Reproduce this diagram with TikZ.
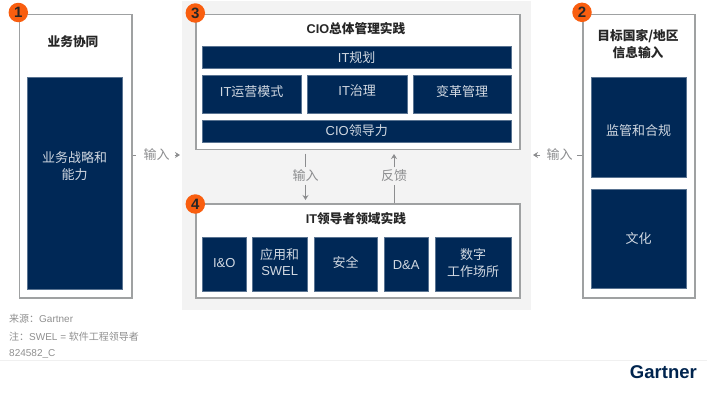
\documentclass[tikz,border=0pt]{standalone}
\usepackage{fontspec}
\setmainfont{Liberation Sans}
\newfontfamily\cjk{Noto Sans CJK SC}
\newfontfamily\latn{Liberation Sans}
\usetikzlibrary{arrows.meta,calc}
\definecolor{navy}{HTML}{002856}
\definecolor{edgegrey}{HTML}{9FA1A2}
\definecolor{flow}{HTML}{8C8D8F}
\definecolor{panel}{HTML}{F3F3F3}
\definecolor{badge}{HTML}{F95E0F}
\definecolor{note}{HTML}{8F8F8F}
\tikzset{
 x=1pt,y=-1pt,
 frame/.style={draw=edgegrey,line width=1.5pt,fill=white},
 tile/.style={fill=navy,draw=navy!65!white,line width=.4pt,inner sep=0pt},
 tiletext/.style={text=white!82!navy,font=\fontsize{13}{16.5}\selectfont\cjk,align=center,inner sep=0pt},
 heading/.style={font=\fontsize{12.7}{17}\selectfont\cjk\bfseries,text=black!85,align=center,inner sep=0pt},
 badgec/.style={circle,fill=badge,minimum size=19.5pt,inner sep=0pt,text=black!85,font=\fontsize{15}{15}\selectfont\latn\bfseries},
 lbl/.style={font=\fontsize{13}{15}\selectfont\cjk,text=flow,inner sep=0pt},
 flowl/.style={draw=flow,line width=.9pt},
 flowa/.style={flowl,-{Stealth[length=5pt,width=6pt]}},
 notec/.style={font=\fontsize{10}{12}\selectfont\cjk,text=note,anchor=west,inner sep=0pt},
}
% name, x1, y1, x2, y2, vertical text shift, text
\newcommand{\tilebox}[7]{%
 \node[tile,minimum width=#4-#2,minimum height=#5-#3,anchor=north west] (#1) at (#2,#3) {};
 \node[tiletext] (#1t) at ($(#1.center)+(0,#6)$) {#7};}
\begin{document}
\begin{tikzpicture}
\useasboundingbox (0,0) rectangle (707,400);
\fill[panel] (182,1) rectangle (531,310);
\draw[black!6,line width=.5pt] (0,360.5) -- (707,360.5);
% frames
\node[frame,inner sep=0pt,minimum width=112.5,minimum height=283.5,anchor=north west] (f1) at (18.5,13.5) {};
\node[frame,inner sep=0pt,minimum width=324,minimum height=135,anchor=north west] (f3) at (195,13.5) {};
\node[frame,inner sep=0pt,minimum width=324,minimum height=94,anchor=north west] (f4) at (195,203) {};
\node[frame,inner sep=0pt,minimum width=112,minimum height=283.5,anchor=north west] (f2) at (582,13.5) {};
% free ends of the flow connectors
\coordinate (inLb) at (180,155);
\coordinate (inRb) at (533,155);
% headings
\node[heading] (h1) at (73,42) {业务协同};
\node[heading] (h3) at (356,29) {\latn\bfseries CIO\cjk\bfseries 总体管理实践};
\node[heading] (h4) at (356,219) {\latn\bfseries IT\cjk\bfseries 领导者领域实践};
\node[heading] (h2) at (638,44.5) {目标国家/地区\\信息输入};
% tiles
\tilebox{t1}{27}{77}{122}{289}{-17}{业务战略和\\能力}
\tilebox{m1}{591}{77}{686}{177}{3}{监管和合规}
\tilebox{m2}{591}{189}{686}{288}{0}{文化}
\tilebox{a1}{202}{46}{511}{68}{0}{\latn IT\cjk 规划}
\tilebox{a2}{202}{75}{301}{113}{-3}{\latn IT\cjk 运营模式}
\tilebox{a3}{307}{75}{407}{113}{-4}{\latn IT\cjk 治理}
\tilebox{a4}{413}{75}{511}{113}{-3}{变革管理}
\tilebox{a5}{202}{120}{511}{142}{-1}{\latn CIO\cjk 领导力}
\tilebox{b1}{202}{237}{246}{291}{-1}{\latn I\&O}
\tilebox{b2}{252}{237}{307}{291}{-2}{应用和\\\latn SWEL}
\tilebox{b3}{314}{237}{377}{291}{-2}{安全}
\tilebox{b4}{384}{237}{428}{291}{1}{\latn D\&A}
\tilebox{b5}{435}{237}{511}{291}{-1}{数字\\工作场所}
% flow labels
\node[lbl] (l1) at (156.5,155) {输入};
\node[lbl] (l2) at (559.5,155) {输入};
\node[lbl] (l3) at (305.5,175.5) {输入};
\node[lbl] (l4) at (394,175.5) {反馈};
\draw[flowl] (f1.east|-l1) -- ([xshift=-7pt]l1.west);
\draw[flowa] ([xshift=5pt]l1.east) -- (inLb);
\draw[flowl] (f2.west|-l2) -- ([xshift=4pt]l2.east);
\draw[flowa] ([xshift=-6pt]l2.west) -- (inRb);
\draw[flowl] ([yshift=-3.5pt]f3.south-|l3) -- ([yshift=2pt]l3.north);
\draw[flowa] ([yshift=-3pt]l3.south) -- ([yshift=3pt]f4.north-|l3);
\draw[flowl] (f4.north-|l4) -- ([yshift=-3pt]l4.south);
\draw[flowa] ([yshift=2pt]l4.north) -- ([yshift=-4pt]f3.south-|l4);
% badges
\node[badgec] (n1) at (18.3,12.5) {1};
\node[badgec] (n2) at (582,12.3) {2};
\node[badgec] (n3) at (195.3,13) {3};
\node[badgec] (n4) at (195.3,204) {4};
% notes
\node[notec] (s1) at (9,318.5) {来源：\latn Gartner};
\node[notec] (s2) at (9,336.5) {注：\latn SWEL = \cjk 软件工程领导者};
\node[notec] (s3) at (9,354) {\latn 824582\_C};
\node[inner sep=0pt,anchor=east,text=navy!90!black,font=\fontsize{18.5}{18.5}\selectfont\latn\bfseries] (g) at (697,372) {Gartner};
\end{tikzpicture}
\end{document}
